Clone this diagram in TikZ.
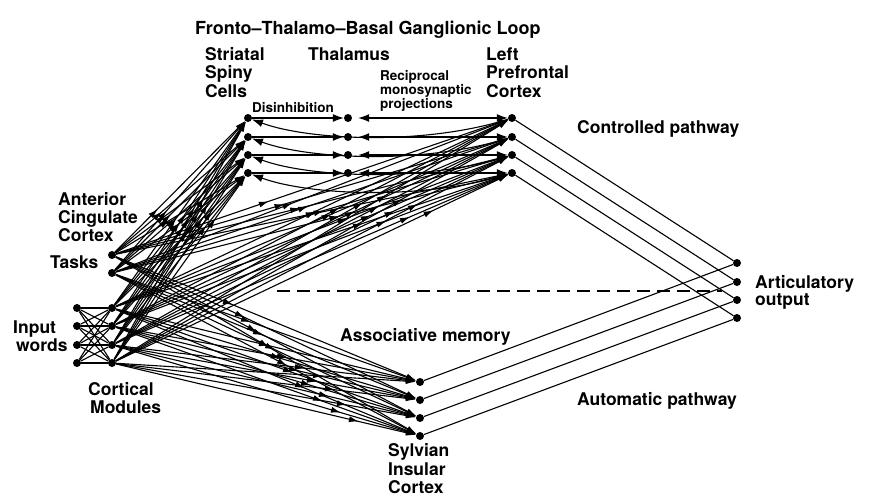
\documentclass[tikz,border=0pt]{standalone}
\usepackage{fontspec}
\setmainfont{TeX Gyre Heros}
\usetikzlibrary{arrows.meta,decorations.markings}
\begin{document}
\begin{tikzpicture}[x=1pt,y=-1pt,
  dot/.style={circle,fill=black,inner sep=0pt,minimum size=8pt},
  lbl/.style={font=\bfseries\fontsize{17.5}{18}\selectfont,inner sep=0pt,anchor=base west},
  slbl/.style={font=\bfseries\fontsize{13.5}{14}\selectfont,inner sep=0pt,anchor=base west},
  wire/.style={line width=1.1pt},
  arr/.style={-{Latex[length=11pt,width=8pt]}},
  bund/.style={wire,-{Latex[length=10pt,width=6pt]},postaction={decorate},
    decoration={markings,mark=at position #1 with {\arrow{Latex[length=10pt,width=6pt]}}}},
  dashline/.style={line width=2.3pt,dash pattern=on 13pt off 7pt}
]
\useasboundingbox (0,0) rectangle (869,498);
% nodes
\foreach \i/\y in {1/118,2/137,3/155,4/173}{
  \node[dot] (S\i) at (248,\y) {};
  \node[dot] (H\i) at (348,\y) {};
  \node[dot] (P\i) at (512,\y) {};
}
\foreach \i/\y in {1/263,2/282,3/300,4/318} \node[dot] (A\i) at (737,\y) {};
\foreach \i/\y in {1/382,2/400,3/418,4/436} \node[dot] (V\i) at (420,\y) {};
\foreach \i/\y in {1/308,2/326,3/345,4/363}{
  \node[dot] (I\i) at (77,\y) {};
  \node[dot] (C\i) at (112,\y) {};
}
\node[dot] (T1) at (112,255) {};
\node[dot] (T2) at (112,273) {};
% loop connections
\foreach \i in {1,...,4}{
  \draw[wire,arr] (S\i) -- (H\i);
  \draw[wire,{Latex[length=11pt,width=8pt]}-{Latex[length=11pt,width=8pt]},shorten <=6pt] (H\i) -- (P\i);
  \draw[wire,arr] (P\i) .. controls +(-90,28) and +(60,22) .. (S\i);
  \draw[wire] (P\i) -- (A\i);
  \draw[wire] (V\i) -- (A\i);
}
% input words to cortical modules
\foreach \i in {1,...,4}{
  \foreach \j in {1,...,4}{
    \draw[wire] (I\i) -- (C\j);
  }
}
% cortical bundles
\foreach \s/\n in {T1/0,T2/1,C1/2,C2/3,C3/4,C4/5}{
  \foreach \k in {1,...,4}{
    \pgfmathsetmacro\pa{0.3+0.07*\n+0.03*\k}
    \pgfmathsetmacro\pb{0.35+0.06*\n+0.04*\k}
    \draw[bund=\pa] (\s) -- (S\k);
    \draw[bund=\pb] (\s) -- (P\k);
    \draw[bund=\pb] (\s) -- (V\k);
  }
}
% dashed line
\coordinate (d1) at (277,291);
\coordinate (d2) at (722,291);
\draw[dashline] (d1) -- (d2);
% labels
\node[lbl,font=\bfseries\fontsize{18}{18}\selectfont] (title) at (195,34) {Fronto--Thalamo--Basal Ganglionic Loop};
\node[lbl] (str1) at (205,60) {Striatal};
\node[lbl] (str2) at (205,78) {Spiny};
\node[lbl] (str3) at (205,97) {Cells};
\node[lbl] (thal) at (308,60) {Thalamus};
\node[lbl] (lpc1) at (486,60) {Left};
\node[lbl] (lpc2) at (486,78) {Prefrontal};
\node[lbl] (lpc3) at (486,97) {Cortex};
\node[slbl] (rec1) at (380,80) {Reciprocal};
\node[slbl] (rec2) at (380,94) {monosynaptic};
\node[slbl] (rec3) at (380,108) {projections};
\node[slbl] (dis) at (252,112) {Disinhibition};
\node[lbl] (ctrl) at (577,133) {Controlled pathway};
\node[lbl] (art1) at (755,288) {Articulatory};
\node[lbl] (art2) at (755,305) {output};
\node[lbl] (auto) at (577,405) {Automatic pathway};
\node[lbl] (asso) at (340,341) {Associative memory};
\node[lbl] (syl1) at (388,456) {Sylvian};
\node[lbl] (syl2) at (388,475) {Insular};
\node[lbl] (syl3) at (388,493) {Cortex};
\node[lbl] (acc1) at (58,205) {Anterior};
\node[lbl] (acc2) at (58,223) {Cingulate};
\node[lbl] (acc3) at (58,241) {Cortex};
\node[lbl] (task) at (50,268) {Tasks};
\node[lbl] (inp1) at (13,333) {Input};
\node[lbl] (inp2) at (16,351) {words};
\node[lbl] (cor1) at (88,395) {Cortical};
\node[lbl] (cor2) at (90,413) {Modules};
\end{tikzpicture}
\end{document}
